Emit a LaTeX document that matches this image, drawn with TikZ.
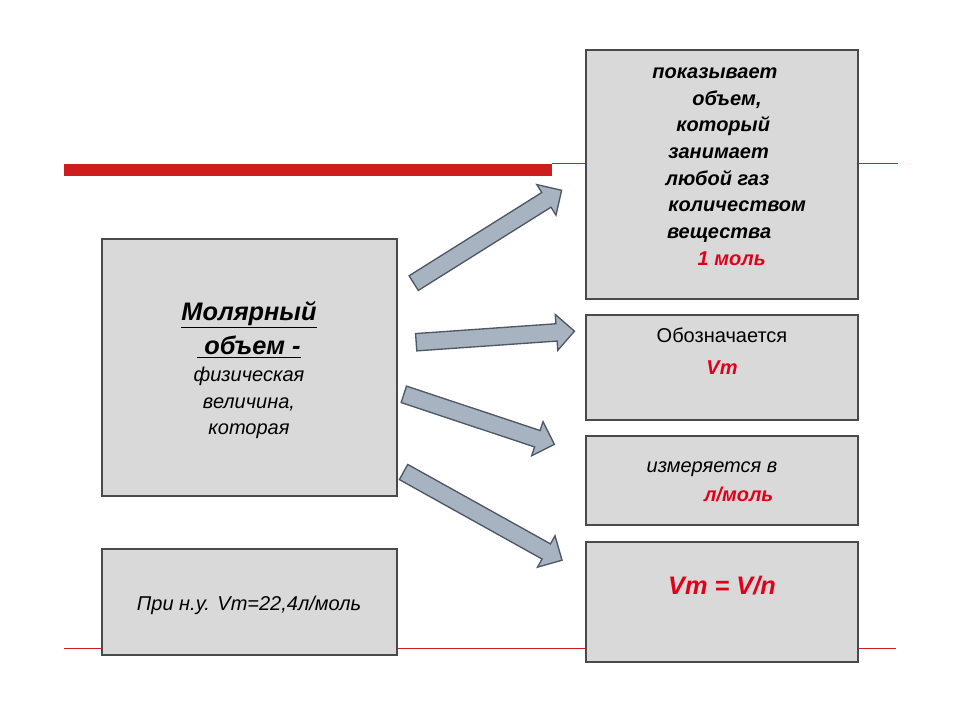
\documentclass[tikz,border=0pt]{standalone}
\usepackage{fontspec}
\setmainfont{Liberation Sans}
\usetikzlibrary{shapes.arrows}
\definecolor{boxfill}{HTML}{D9D9D9}
\definecolor{boxline}{HTML}{4A4A4A}
\definecolor{arfill}{HTML}{A7B3C1}
\definecolor{arline}{HTML}{4E5864}
\definecolor{redbar}{HTML}{CC1E1E}
\definecolor{txtred}{HTML}{E0001B}
\newcommand{\bigbi}[1]{{\fontsize{19}{26}\selectfont\bfseries\itshape #1}}
\begin{document}
\begin{tikzpicture}[x=0.75pt,y=-0.75pt,
  box/.style={draw=boxline,fill=boxfill,line width=1pt},
  blockarrow/.style={single arrow,draw=arline,fill=arfill,line width=1pt,
    minimum width=26pt,single arrow head extend=7pt,single arrow head indent=0pt,inner xsep=0pt,inner ysep=6pt},
  txt/.style={align=center,font=\fontsize{15}{20}\selectfont}]
\useasboundingbox (0,0) rectangle (960,720);
\fill[white] (0,0) rectangle (960,720);
% red lines
\draw[redbar,line width=0.7pt] (552,163) -- (898,163);
\fill[redbar] (64,164) rectangle (552,176);
\draw[redbar,line width=0.5pt] (64,648) -- (896,648);
% boxes
\draw[box] (102,239) rectangle (397,496);
\draw[box] (102,549) rectangle (397,655);
\draw[box] (586,50) rectangle (858,299);
\draw[box] (586,315) rectangle (858,420);
\draw[box] (586,436) rectangle (858,525);
\draw[box] (586,542) rectangle (858,662);
% texts
\node[txt] (left) at (249,370) {\bigbi{\underline{Молярный}}\\[6pt]\bigbi{\underline{\ объем -}}\\\textit{физическая}\\\textit{величина,}\\\textit{которая}};
\node[txt] (cond) at (249,605) {\textit{При н.у. Vm=22,4л/моль}};
\node[txt,align=left,anchor=north west,font=\fontsize{15}{20}\selectfont\bfseries\itshape] (t1) at (645,63) {%
  \hspace*{2pt}показывает\\
  \hspace*{32pt}объем,\\
  \hspace*{20pt}который\\
  \hspace*{14pt}занимает\\
  \hspace*{12pt}любой газ\\
  \hspace*{14pt}количеством\\
  \hspace*{13pt}вещества\\
  \hspace*{36pt}\textcolor{txtred}{1 моль}};
\node[txt] (t2) at (722,351) {Обозначается\\[4pt]\textcolor{txtred}{\textbf{\textit{Vm}}}};
\node[txt] (t3) at (712,482) {\textit{измеряется в}\\[2pt]\hspace*{40pt}\textcolor{txtred}{\textbf{\textit{л/моль}}}};
\node[txt] (t4) at (722,586) {\textcolor{txtred}{\bigbi{Vm = V/n}}};
% arrows
\node[blockarrow,minimum height=131pt,rotate=32.1] (a1) at (484,239) {};
\node[blockarrow,minimum height=119pt,rotate=4.0] (a2) at (491,337) {};
\node[blockarrow,minimum height=119pt,rotate=-18.4] (a3) at (475,418) {};
\node[blockarrow,minimum height=136pt,rotate=-29.1] (a4) at (479,514) {};
\end{tikzpicture}
\end{document}
